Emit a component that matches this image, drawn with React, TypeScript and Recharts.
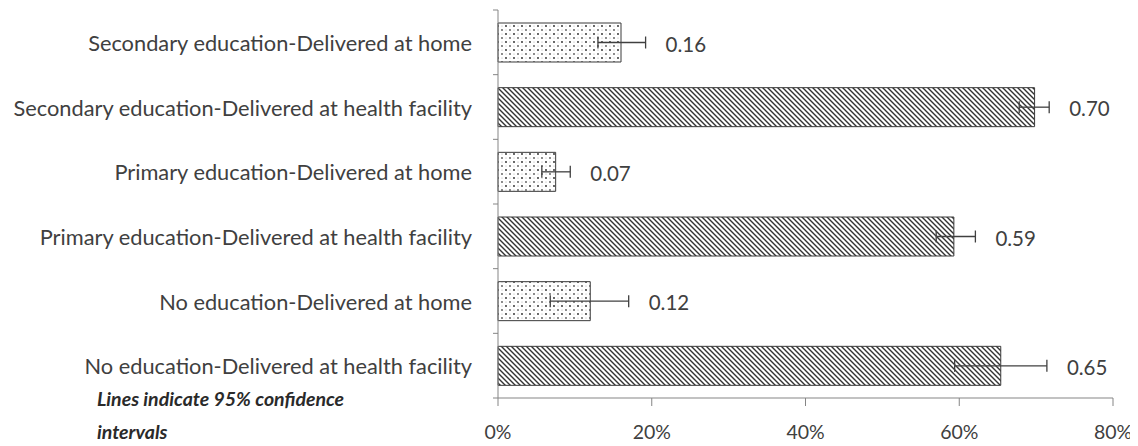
import { BarChart, Bar, XAxis, YAxis, Cell, ErrorBar, LabelList } from "recharts";

// categories, top to bottom as drawn
const categories = [
  "Secondary education-Delivered at home",
  "Secondary education-Delivered at health facility",
  "Primary education-Delivered at home",
  "Primary education-Delivered at health facility",
  "No education-Delivered at home",
  "No education-Delivered at health facility",
];
const place = ["home", "facility", "home", "facility", "home", "facility"];
const values = [0.16, 0.698, 0.075, 0.593, 0.12, 0.654];
const valueLabels = ["0.16", "0.70", "0.07", "0.59", "0.12", "0.65"];
const lower = [0.13, 0.678, 0.057, 0.57, 0.068, 0.594];
const upper = [0.192, 0.717, 0.094, 0.621, 0.17, 0.714];
const xTicks = [0, 0.2, 0.4, 0.6, 0.8];

const data = categories.map((name, i) => ({
  name,
  value: values[i],
  err: [values[i] - lower[i], upper[i] - values[i]],
  label: valueLabels[i],
  high: upper[i],
}));

const FONT = "Lato, 'Open Sans', sans-serif";
const TEXT = "#404040";
const AXIS = "#858585";
const W = 1130;
const H = 438;
const Y_AXIS_W = 490;
const TOP = 2;
const X_AXIS_H = 48;
const BAND = (H - TOP - X_AXIS_H) / categories.length;

const CategoryTick = (props: any) => {
  const { y, payload, index } = props;
  const ax = Y_AXIS_W;
  return (
    <g>
      <text
        x={ax - 26}
        y={y}
        textAnchor="end"
        dominantBaseline="central"
        fill={TEXT}
        fontSize={21.8}
        fontFamily={FONT}
      >
        {payload.value}
      </text>
      <line x1={ax - 5} x2={ax} y1={y - BAND / 2} y2={y - BAND / 2} stroke={AXIS} />
      {index === categories.length - 1 && (
        <line x1={ax - 5} x2={ax} y1={y + BAND / 2} y2={y + BAND / 2} stroke={AXIS} />
      )}
    </g>
  );
};

const ValueLabel = (props: any) => {
  const { x, y, width, height, index } = props;
  const d = data[index];
  const perUnit = width / d.value;
  const lx = x + perUnit * d.high + 20;
  return (
    <text
      x={lx}
      y={y + height / 2 + 1}
      dominantBaseline="central"
      fill={TEXT}
      fontSize={20.5}
      fontFamily={FONT}
    >
      {d.label}
    </text>
  );
};

export default function App() {
  return (
    <div style={{ position: "relative", width: W, height: H }}>
      <svg width={0} height={0} style={{ position: "absolute" }}>
        <defs>
          <pattern id="dots" width={8} height={8} patternUnits="userSpaceOnUse">
            <rect width={8} height={8} fill="#fff" />
            <circle cx={2} cy={2} r={0.9} fill="#222" />
            <circle cx={6} cy={6} r={0.9} fill="#555" />
            <circle cx={6} cy={2} r={0.5} fill="#999" />
            <circle cx={2} cy={6} r={0.5} fill="#999" />
          </pattern>
          <pattern id="diag" width={5} height={5} patternUnits="userSpaceOnUse">
            <rect width={5} height={5} fill="#fff" />
            <path d="M-1,-1 L6,6 M-1,4 L1,6 M4,-1 L6,1" stroke="#333" strokeWidth={1.4} />
          </pattern>
        </defs>
      </svg>
      <BarChart
        width={W}
        height={H}
        data={data}
        layout="vertical"
        margin={{ top: TOP, right: 25, bottom: 0, left: 0 }}
        barCategoryGap={13}
      >
        <XAxis
          type="number"
          domain={[0, 0.8]}
          ticks={xTicks}
          tickFormatter={(v: number) => `${Math.round(v * 100)}%`}
          tick={{ fill: TEXT, fontSize: 19.5, fontFamily: FONT }}
          tickSize={8}
          tickMargin={19}
          height={X_AXIS_H}
          stroke={AXIS}
          interval={0}
        />
        <YAxis
          type="category"
          dataKey="name"
          width={Y_AXIS_W}
          tick={<CategoryTick />}
          tickLine={false}
          stroke={AXIS}
          interval={0}
        />
        <Bar dataKey="value" stroke="#3a3a3a" strokeWidth={1} isAnimationActive={false}>
          {data.map((d, i) => (
            <Cell key={d.name} fill={place[i] === "home" ? "url(#dots)" : "url(#diag)"} />
          ))}
          <ErrorBar
            dataKey="err"
            direction="x"
            width={6}
            stroke="#404040"
            strokeWidth={1.3}
            isAnimationActive={false}
          />
          <LabelList dataKey="label" content={<ValueLabel />} />
        </Bar>
      </BarChart>
      <div
        style={{
          position: "absolute",
          left: 89,
          top: 374,
          width: 285,
          fontFamily: FONT,
          fontWeight: 700,
          fontStyle: "italic",
          fontSize: 19.5,
          lineHeight: "33px",
          color: "#2a2a2a",
        }}
      >
        Lines indicate 95% confidence intervals
      </div>
    </div>
  );
}
